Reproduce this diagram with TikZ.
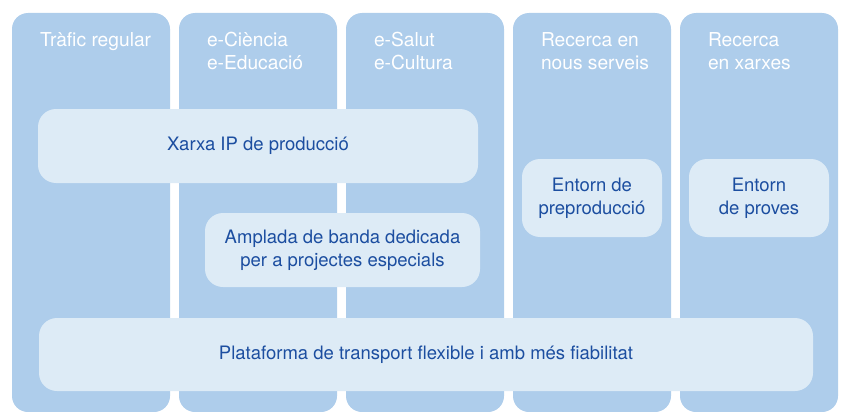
\documentclass[tikz,border=0pt]{standalone}
\usepackage{fontspec}
\setmainfont{TeX Gyre Heros}
\usepackage{tikz}
\usetikzlibrary{positioning}
\definecolor{colblue}{RGB}{174,205,235}
\definecolor{boxblue}{RGB}{221,235,246}
\definecolor{textblue}{RGB}{28,78,160}
\tikzstyle{column} = [rectangle, rounded corners=16pt, minimum width=158pt, minimum height=399pt, inner sep=0pt, fill=colblue]
\tikzstyle{heading} = [anchor=north west, align=left, text=white, inner sep=0pt, xshift=28pt, yshift=-19.5pt, font=\fontsize{19.2}{23}\selectfont]
\tikzstyle{service} = [rectangle, rounded corners=18pt, inner sep=0pt, align=center, fill=boxblue, text=textblue]

\begin{document}
\begin{tikzpicture}[x=1pt, y=-1pt, node distance=167pt, font=\fontsize{18.5}{23}\selectfont]
\useasboundingbox (0,0) rectangle (843,412);
\node (trafic) [column] at (91,212.5) {};
\node (ciencia) [column, right of=trafic] {};
\node (salut) [column, right of=ciencia] {};
\node (serveis) [column, right of=salut] {};
\node (xarxes) [column, right of=serveis] {};
\node (traficlabel) [heading] at (trafic.north west) {Tràfic regular};
\node (ciencialabel) [heading] at (ciencia.north west) {e-Ciència\\e-Educació};
\node (salutlabel) [heading] at (salut.north west) {e-Salut\\e-Cultura};
\node (serveislabel) [heading] at (serveis.north west) {Recerca en\\nous serveis};
\node (xarxeslabel) [heading] at (xarxes.north west) {Recerca\\en xarxes};
\node (xarxaip) [service, minimum width=440pt, minimum height=74pt] at (258,146) {Xarxa IP de producció};
\node (preprod) [service, minimum width=140pt, minimum height=78pt] at (592,198) {Entorn de\\preproducció};
\node (proves) [service, minimum width=140pt, minimum height=78pt, right of=preprod] {Entorn\\de proves};
\node (amplada) [service, minimum width=275pt, minimum height=74pt] at (342.5,250) {Amplada de banda dedicada\\per a projectes especials};
\node (plataforma) [service, minimum width=774pt, minimum height=73pt] at (426,354.5) {Plataforma de transport flexible i amb més fiabilitat};
\end{tikzpicture}
\end{document}
